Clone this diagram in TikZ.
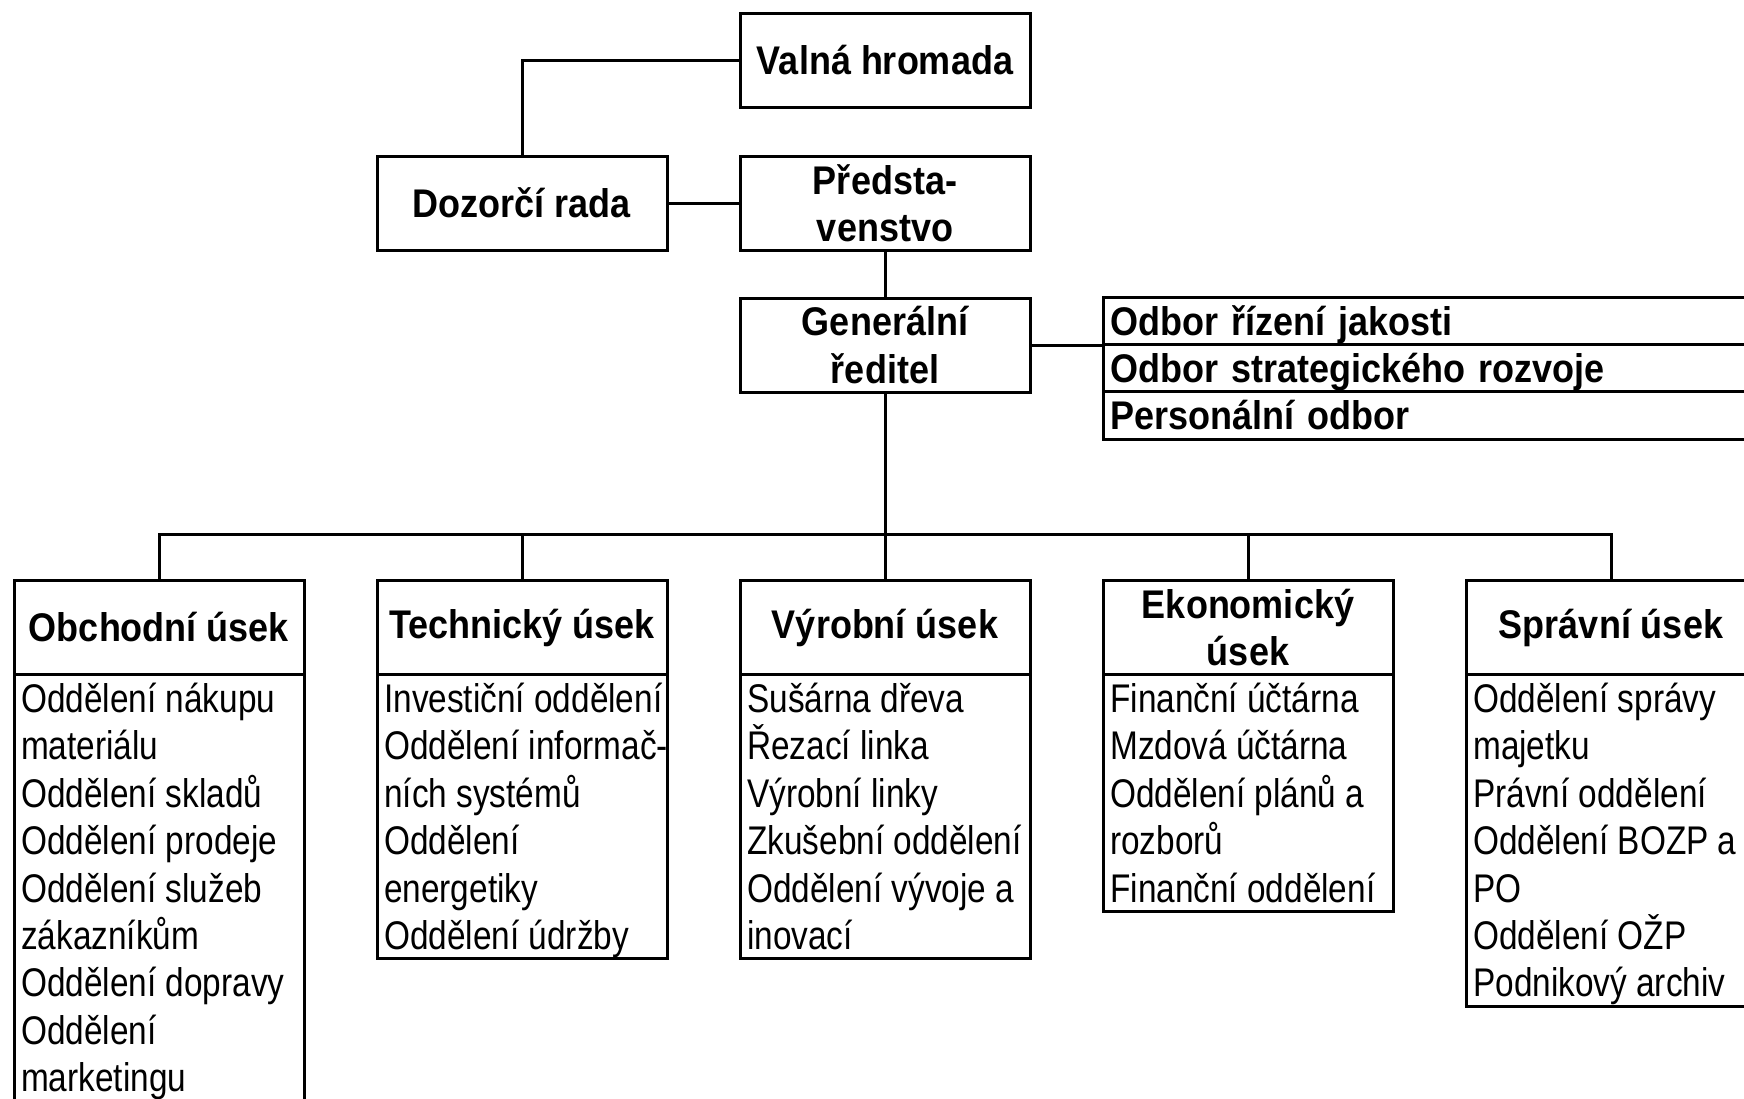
\documentclass[tikz,border=0pt]{standalone}
\usepackage{fontspec}
\setmainfont{Liberation Sans}
\newfontfamily\bodyfont[FakeStretch=0.834]{Liberation Sans}
\newfontfamily\headfont[FakeStretch=0.9]{Liberation Sans}
\begin{document}
\begin{tikzpicture}[x=1pt,y=-1pt,
  box/.style={draw,line width=3pt,rectangle,inner sep=0pt,outer sep=0pt,
    minimum width=290pt,minimum height=94pt,align=center,
    font=\headfont\bfseries\fontsize{40}{47.4}\selectfont},
  listbox/.style={draw,line width=3pt,rectangle,inner sep=0pt,outer sep=0pt,
    minimum width=290pt,anchor=north west},
  item/.style={anchor=base west,inner sep=0pt,
    font=\bodyfont\fontsize{40}{47.4}\selectfont},
  orow/.style={draw,line width=3pt,rectangle,anchor=north west,outer sep=0pt,
    minimum width=700pt,minimum height=47.4pt,inner xsep=7pt,inner ysep=0pt,
    text width=686pt,align=left,text height=28.6pt,text depth=0pt,
    font=\headfont\bfseries\fontsize{40}{47.4}\selectfont},
  conn/.style={line width=3pt}]
\useasboundingbox (0,0) rectangle (1744,1098);
\clip (0,0) rectangle (1744,1098);
\fill[white] (0,0) rectangle (1744,1098);

% top boxes
\node[box] (valna) at (885,60) {Valná hromada};
\node[box] (dozorci) at (522,203) {Dozorčí rada};
\node[box] (predst) at (885,203) {Předsta-\\venstvo};
\node[box] (gr) at (885,345) {Generální\\ředitel};

% staff departments
\node[orow] (od1) at (1103,297) {Odbor řízení jakosti};
\node[orow] (od2) at (1103,344.4) {Odbor strategického rozvoje};
\node[orow] (od3) at (1103,391.8) {Personální odbor};

% division headers
\node[box] (h1) at (159,627.5) {Obchodní úsek};
\node[box] (h2) at (522,627.5) {Technický úsek};
\node[box] (h3) at (885,627.5) {Výrobní úsek};
\node[box] (h4) at (1248,627.5) {Ekonomický\\úsek};
\node[box] (h5) at (1611,627.5) {Správní úsek};

% list boxes
\node[listbox,minimum height=426.6pt] (l1) at (14,674.5) {};
\node[listbox,minimum height=284.4pt] (l2) at (377,674.5) {};
\node[listbox,minimum height=284.4pt] (l3) at (740,674.5) {};
\node[listbox,minimum height=237pt] (l4) at (1103,674.5) {};
\node[listbox,minimum height=331.8pt] (l5) at (1466,674.5) {};

\foreach \t [count=\i] in {Oddělení nákupu,materiálu,Oddělení skladů,Oddělení prodeje,Oddělení služeb,zákazníkům,Oddělení dopravy,Oddělení,marketingu}
  \node[item] (a\i) at (21,{674.5+47.4*(\i-0.5)+14.3}) {\t};
\foreach \t [count=\i] in {Investiční oddělení,Oddělení informač-,ních systémů,Oddělení,energetiky,Oddělení údržby}
  \node[item] (b\i) at (384,{674.5+47.4*(\i-0.5)+14.3}) {\t};
\foreach \t [count=\i] in {Sušárna dřeva,Řezací linka,Výrobní linky,Zkušební oddělení,Oddělení vývoje a,inovací}
  \node[item] (c\i) at (747,{674.5+47.4*(\i-0.5)+14.3}) {\t};
\foreach \t [count=\i] in {Finanční účtárna,Mzdová účtárna,Oddělení plánů a,rozborů,Finanční oddělení}
  \node[item] (d\i) at (1110,{674.5+47.4*(\i-0.5)+14.3}) {\t};
\foreach \t [count=\i] in {Oddělení správy,majetku,Právní oddělení,Oddělení BOZP a,PO,Oddělení OŽP,Podnikový archiv}
  \node[item] (e\i) at (1473,{674.5+47.4*(\i-0.5)+14.3}) {\t};

% connectors
\draw[conn] (valna.west) -| (dozorci.north);
\draw[conn] (dozorci.east) -- (predst.west);
\draw[conn] (predst.south) -- (gr.north);
\draw[conn] (gr.east) -- (gr.east -| od1.south west);
\coordinate (bus) at (885,534);
\draw[conn] (gr.south) -- (bus);
\draw[conn] (h1.north) |- (bus) -| (h5.north);
\foreach \n in {h2,h3,h4}
  \draw[conn] (\n.north) -- (\n.north |- bus);
\end{tikzpicture}
\end{document}
